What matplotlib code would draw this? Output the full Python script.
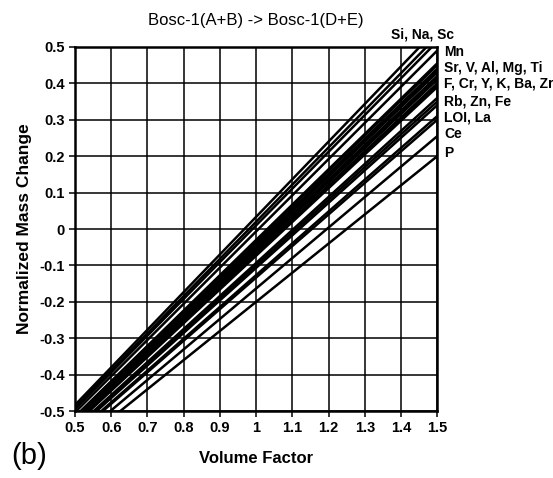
import matplotlib
matplotlib.use("Agg")
from matplotlib import pyplot as plt
import numpy as np

plt.rcParams['font.family'] = ['Liberation Sans', 'DejaVu Sans']

# normalized mass change of each component at a volume factor of 1.5
elements = ['Si', 'Na', 'Sc', 'Mn', 'Sr', 'V', 'Al', 'Mg', 'Ti',
            'F', 'Cr', 'Y', 'K', 'Ba', 'Zr', 'Rb', 'Zn', 'Fe',
            'LOI', 'La', 'Ce', 'P']
change_at_15 = [0.55, 0.53, 0.515, 0.49, 0.455, 0.45, 0.44, 0.435, 0.43,
                0.42, 0.415, 0.41, 0.40, 0.395, 0.39, 0.36, 0.35, 0.34,
                0.31, 0.30, 0.255, 0.20]

groups = ['Si, Na, Sc', 'Mn', 'Sr, V, Al, Mg, Ti', 'F, Cr, Y, K, Ba, Zr',
          'Rb, Zn, Fe', 'LOI, La', 'Ce', 'P']
group_y = [0.53, 0.485, 0.443, 0.40, 0.35, 0.305, 0.26, 0.21]

vf = np.linspace(0.0, 2.0, 201)

fig = plt.figure(figsize=(5.53, 4.78), dpi=100)
ax = fig.add_axes([0.1356, 0.140, 0.655, 0.7617])

# Gresens: mass change = Fv * (rho_b/rho_a) * (c_b/c_a) - 1
for el, yv in zip(elements, change_at_15):
    k = (yv + 1.0) / 1.5
    ax.plot(vf, k * vf - 1.0, color='black', lw=1.8, solid_capstyle='butt')

ax.set_xlim(0.5, 1.5)
ax.set_ylim(-0.5, 0.5)
ax.set_xticks(np.arange(0.5, 1.51, 0.1))
ax.set_yticks(np.arange(-0.5, 0.51, 0.1))
ax.set_xticklabels(['0.5', '0.6', '0.7', '0.8', '0.9', '1', '1.1', '1.2', '1.3', '1.4', '1.5'])
ax.set_yticklabels(['-0.5', '-0.4', '-0.3', '-0.2', '-0.1', '0', '0.1', '0.2', '0.3', '0.4', '0.5'])
ax.grid(True, color='black', lw=1.1)
ax.tick_params(direction='out', length=4, width=1.1, labelsize=10.5)
for lab in ax.get_xticklabels() + ax.get_yticklabels():
    lab.set_fontweight('bold')
for sp in ax.spines.values():
    sp.set_linewidth(1.8)

ax.set_xlabel('Volume Factor', fontsize=12, fontweight='bold', labelpad=11)
ax.set_ylabel('Normalized Mass Change', fontsize=12.5, fontweight='bold', labelpad=5)
ax.set_title('Bosc-1(A+B) -> Bosc-1(D+E)', fontsize=12, pad=16)

# element group labels on the right edge
for g, gy in zip(groups, group_y):
    if g == 'Si, Na, Sc':
        ax.text(1.46, 0.515, g, fontsize=10, fontweight='bold', ha='center', va='bottom',
                clip_on=False)
    else:
        ax.text(1.52, gy, g, fontsize=10, fontweight='bold', ha='left', va='center',
                clip_on=False)

fig.text(0.02, 0.03, '(b)', fontsize=21)

fig.savefig('out.png', dpi=100)
